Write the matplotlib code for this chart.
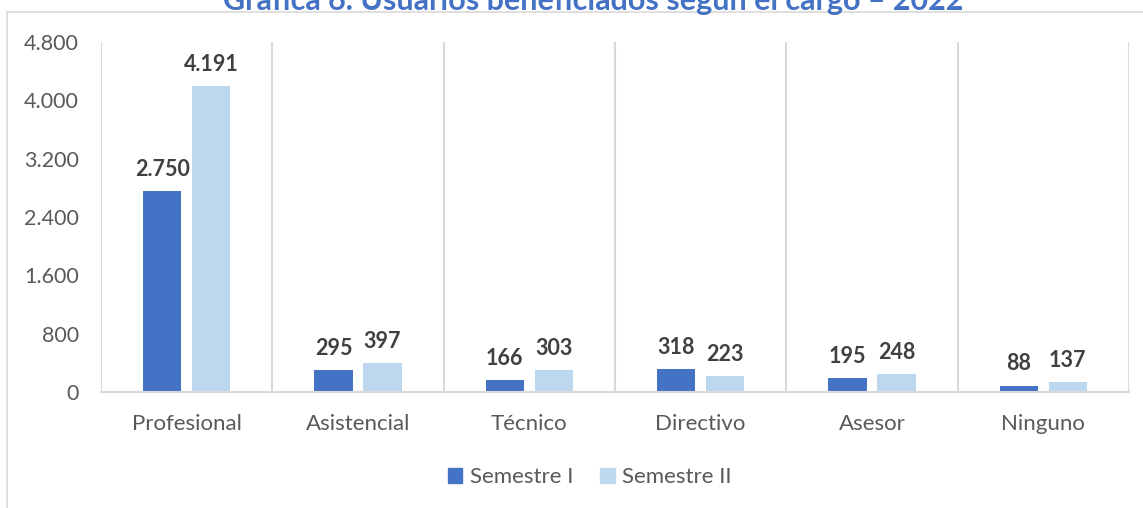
import matplotlib.pyplot as plt
from matplotlib.patches import Rectangle, Patch
import numpy as np

plt.rcParams['font.family'] = ['Lato', 'DejaVu Sans']

# Data
categorias = ['Profesional', 'Asistencial', 'Técnico', 'Directivo', 'Asesor', 'Ninguno']
semestre_1 = [2750, 295, 166, 318, 195, 88]
semestre_2 = [4191, 397, 303, 223, 248, 137]
y_ticks = [0, 800, 1600, 2400, 3200, 4000, 4800]

azul = '#4472C4'
celeste = '#BDD7EE'
gris_txt = '#595959'
gris_linea = '#D9D9D9'


def miles(v):
    return f"{v:,}".replace(",", ".")


fig = plt.figure(figsize=(11.43, 5.08), dpi=100)

# chart border (only top and left sides fall inside the image)
fig.patches.append(Rectangle((7 / 1143, -0.1), 1.2, 1.1 - 12 / 508,
                             transform=fig.transFigure, fill=False,
                             edgecolor=gris_linea, linewidth=1.2))

# title, cut off at the top like in the original
fig.text(0.519, 1 - 10 / 508, 'Gráfica 6. Usuarios beneficiados según el cargo – 2022',
         ha='center', va='baseline', fontsize=22, fontweight='bold', color=azul)

ax = fig.add_axes([101 / 1143, 1 - 392 / 508, (1129 - 101) / 1143, (392 - 42) / 508])

x = np.arange(len(categorias))
off = 0.143
w = 0.222
b1 = ax.bar(x - off, semestre_1, w, color=azul, label='Semestre I')
b2 = ax.bar(x + off, semestre_2, w, color=celeste, label='Semestre II')

for barras in (b1, b2):
    for rect in barras:
        h = rect.get_height()
        ax.annotate(miles(int(h)), (rect.get_x() + rect.get_width() / 2, h),
                    xytext=(0, 8), textcoords='offset points', ha='center', va='bottom',
                    fontsize=15.5, fontweight='bold', color='#404040')

ax.set_xlim(-0.5, len(categorias) - 0.5)
ax.set_ylim(0, 4800)
ax.set_yticks(y_ticks)
ax.set_yticklabels([miles(v) for v in y_ticks])
ax.set_xticks(x)
ax.set_xticklabels(categorias)
ax.set_xticks(np.arange(len(categorias) + 1) - 0.5, minor=True)
ax.grid(True, which='minor', axis='x', color=gris_linea, linewidth=1.5)
ax.tick_params(axis='both', which='both', length=0, labelcolor=gris_txt)
ax.tick_params(axis='y', pad=16, labelsize=15.5)
ax.tick_params(axis='x', pad=16, labelsize=16)
ax.set_axisbelow(True)

for s in ['top', 'right', 'left']:
    ax.spines[s].set_visible(False)
ax.spines['bottom'].set_color(gris_linea)
ax.spines['bottom'].set_linewidth(1.5)

handles = [Patch(color=azul), Patch(color=celeste)]
fig.legend(handles, ['Semestre I', 'Semestre II'], loc='center', ncol=2,
           bbox_to_anchor=(0.516, 1 - 477 / 508), frameon=False, fontsize=16,
           labelcolor=gris_txt, handlelength=0.65, handleheight=0.65,
           handletextpad=0.35, columnspacing=1.2)

fig.savefig('out.png', dpi=100)
